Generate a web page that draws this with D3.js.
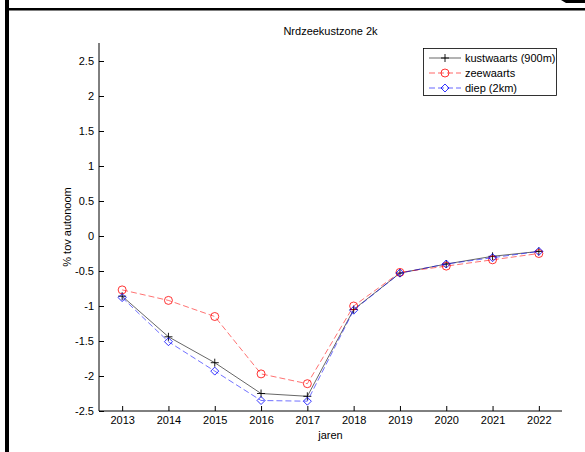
<!DOCTYPE html>
<html>
<head>
<meta charset="utf-8">
<script src="https://cdn.jsdelivr.net/npm/d3@7"></script>
<style>
  body { margin: 0; background: #fff; }
  svg { display: block; font-family: "Liberation Sans", Arial, sans-serif; }
</style>
</head>
<body>
<svg id="chart" width="585" height="452"></svg>
<script>
// Years on the x axis
const years = [2013, 2014, 2015, 2016, 2017, 2018, 2019, 2020, 2021, 2022];

// Percentage change relative to the autonomous scenario
const kustwaarts = [-0.86, -1.44, -1.81, -2.25, -2.29, -1.05, -0.53, -0.40, -0.29, -0.22];
const zeewaarts  = [-0.77, -0.92, -1.15, -1.97, -2.11, -1.00, -0.52, -0.43, -0.34, -0.25];
const diep       = [-0.88, -1.51, -1.93, -2.35, -2.36, -1.06, -0.53, -0.40, -0.31, -0.22];

const yTicks = [-2.5, -2, -1.5, -1, -0.5, 0, 0.5, 1, 1.5, 2, 2.5];
const yTickLabels = ["-2.5", "-2", "-1.5", "-1", "-0.5", "0", "0.5", "1", "1.5", "2", "2.5"];

const seriesNames = ["kustwaarts (900m)", "zeewaarts", "diep (2km)"];
const seriesValues = [kustwaarts, zeewaarts, diep];
const seriesColors = ["#000000", "#ff0000", "#0000ff"];
const seriesDash = [null, "6,3", "6,3"];
const seriesMarker = ["plus", "circle", "diamond"];

const svg = d3.select("#chart");

// outer figure frame
svg.append("rect").attr("x", 5).attr("y", 0).attr("width", 4).attr("height", 452).attr("fill", "#000");
svg.append("rect").attr("x", 9).attr("y", 8).attr("width", 576).attr("height", 2.5).attr("fill", "#000");
svg.append("path").attr("d", "M561,0H585V3H566Z").attr("fill", "#000");

const plotLeft = 99, plotRight = 562, plotTop = 43, plotBottom = 411;

const x = d3.scaleLinear().domain([2012.5, 2022.5]).range([plotLeft, plotRight]);
const y = d3.scaleLinear().domain([-2.5, 2.5]).range([plotBottom, 61]);

// x axis (ticks pointing inward)
const xAxis = d3.axisBottom(x).tickValues(years).tickFormat(d3.format("d"))
  .tickSizeInner(-5).tickSizeOuter(0).tickPadding(5);
const gx = svg.append("g").attr("transform", `translate(0,${plotBottom})`).call(xAxis);
gx.select(".domain").remove();
gx.append("line").attr("x1", plotLeft).attr("x2", plotRight).attr("y1", 0).attr("y2", 0)
  .attr("stroke", "#000").attr("stroke-width", 1);
gx.selectAll("text").attr("font-size", 11).attr("fill", "#000").attr("font-family", "Liberation Sans, Arial, sans-serif");
gx.selectAll(".tick line").attr("stroke", "#000");

// y axis (ticks pointing inward)
const yAxis = d3.axisLeft(y).tickValues(yTicks).tickFormat((d, i) => yTickLabels[i])
  .tickSizeInner(-5).tickSizeOuter(0).tickPadding(5);
const gy = svg.append("g").attr("transform", `translate(${plotLeft},0)`).call(yAxis);
gy.select(".domain").remove();
gy.append("line").attr("x1", 0).attr("x2", 0).attr("y1", plotTop).attr("y2", plotBottom)
  .attr("stroke", "#000").attr("stroke-width", 1);
gy.selectAll("text").attr("font-size", 11).attr("fill", "#000").attr("font-family", "Liberation Sans, Arial, sans-serif");
gy.selectAll(".tick line").attr("stroke", "#000");

// titles
svg.append("text").attr("x", (plotLeft + plotRight) / 2).attr("y", 35).attr("text-anchor", "middle")
  .attr("font-size", 11).text("Nrdzeekustzone 2k");
svg.append("text").attr("x", (plotLeft + plotRight) / 2).attr("y", 439).attr("text-anchor", "middle")
  .attr("font-size", 11).text("jaren");
svg.append("text").attr("transform", `translate(71,${(plotTop + plotBottom) / 2}) rotate(-90)`)
  .attr("text-anchor", "middle").attr("font-size", 11).text("% tov autonoom");

function drawMarker(g, type, cx, cy, color) {
  if (type === "plus") {
    g.append("path").attr("d", `M${cx - 4},${cy}H${cx + 4}M${cx},${cy - 4}V${cy + 4}`)
      .attr("stroke", color).attr("stroke-width", 0.9).attr("fill", "none");
  } else if (type === "circle") {
    g.append("circle").attr("cx", cx).attr("cy", cy).attr("r", 4)
      .attr("stroke", color).attr("stroke-width", 0.8).attr("fill", "none");
  } else {
    g.append("path").attr("d", `M${cx},${cy - 4}L${cx + 4},${cy}L${cx},${cy + 4}L${cx - 4},${cy}Z`)
      .attr("stroke", color).attr("stroke-width", 0.8).attr("fill", "none");
  }
}

const line = d3.line().x((d, i) => x(years[i])).y(d => y(d));

seriesValues.forEach((vals, s) => {
  const g = svg.append("g");
  g.append("path").datum(vals).attr("d", line)
    .attr("fill", "none").attr("stroke", seriesColors[s]).attr("stroke-width", 0.8)
    .attr("stroke-opacity", s === 0 ? 0.75 : 0.7)
    .attr("stroke-dasharray", seriesDash[s]);
  vals.forEach((v, i) => drawMarker(g, seriesMarker[s], x(years[i]), y(v), seriesColors[s]));
});

// legend
const lg = svg.append("g");
lg.append("rect").attr("x", 423.5).attr("y", 48.5).attr("width", 133).attr("height", 47)
  .attr("fill", "#fff").attr("stroke", "#000").attr("stroke-width", 0.8);
seriesNames.forEach((name, s) => {
  const ly = 58 + s * 15;
  lg.append("line").attr("x1", 429).attr("x2", 461).attr("y1", ly).attr("y2", ly)
    .attr("stroke", seriesColors[s]).attr("stroke-width", 0.8).attr("stroke-opacity", 0.75)
    .attr("stroke-dasharray", seriesDash[s]);
  drawMarker(lg, seriesMarker[s], 445, ly, seriesColors[s]);
  lg.append("text").attr("x", 465).attr("y", ly + 4).attr("font-size", 11).text(name);
});
</script>
</body>
</html>
